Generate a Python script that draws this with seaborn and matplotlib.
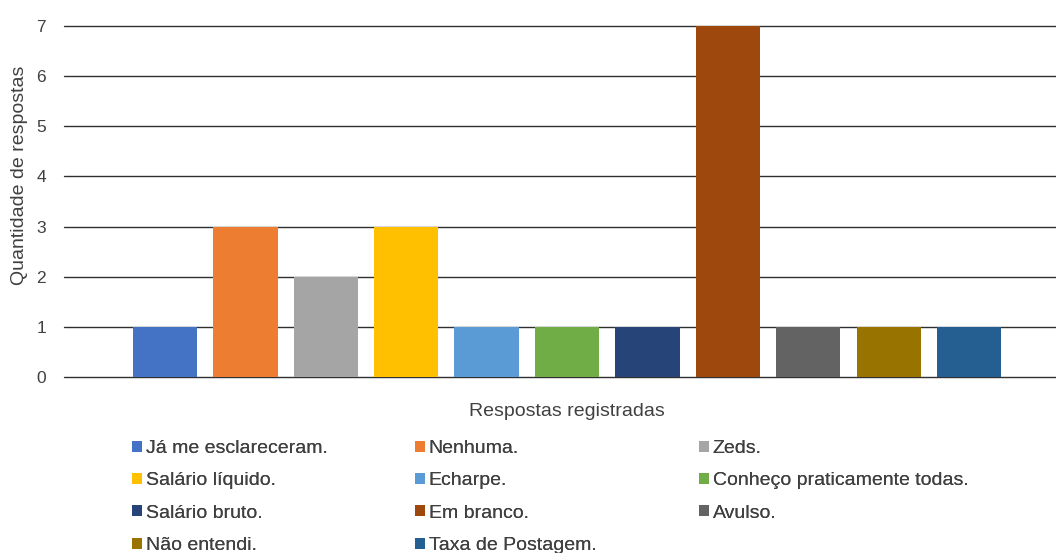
import matplotlib
matplotlib.use("Agg")
import matplotlib.pyplot as plt
from matplotlib.patches import Patch
import seaborn as sns
import pandas as pd

categories = ["Já me esclareceram.", "Nenhuma.", "Zeds.", "Salário líquido.", "Echarpe.",
              "Conheço praticamente todas.", "Salário bruto.", "Em branco.", "Avulso.",
              "Não entendi.", "Taxa de Postagem."]
counts = [1, 3, 2, 3, 1, 1, 1, 7, 1, 1, 1]
colors = ["#4472C4", "#ED7D31", "#A5A5A5", "#FFC000", "#5B9BD5", "#70AD47",
          "#264478", "#9E480E", "#636363", "#997300", "#255E91"]
y_ticks = list(range(0, 8))

sns.set_theme(style="white")
plt.rcParams["font.family"] = ["Liberation Sans", "DejaVu Sans"]

df = pd.DataFrame({"resposta": categories, "qtd": counts})

W, H = 1056, 553
fig = plt.figure(figsize=(W / 100, H / 100), dpi=100)
ax = fig.add_axes([64 / W, 1 - 377 / H, 1 - 64 / W, (377 - 26) / H])

sns.barplot(data=df, x="resposta", y="qtd", hue="resposta", palette=colors,
            saturation=1, width=0.8, linewidth=0, legend=False, ax=ax, zorder=3)

ax.set_ylim(0, 7)
ax.set_xlim(-1.256, 11.08)
ax.set_yticks(y_ticks)
ax.tick_params(axis="y", labelsize=12.5, colors="#404040", length=0, pad=13)
ax.set_xticks([])
ax.yaxis.grid(True, color="#303030", linewidth=1.0, zorder=0)
for gl in ax.get_ygridlines():
    gl.set_clip_on(False)
ax.set_axisbelow(True)
for s in ax.spines.values():
    s.set_visible(False)

ax.set_ylabel("Quantidade de respostas", fontsize=14, color="#404040")
ax.yaxis.set_label_coords(-36 / (W - 64), (377 - 175) / (377 - 26))
ax.set_xlabel("Respostas registradas", fontsize=14, color="#404040")
ax.xaxis.set_label_coords((567 - 64) / (W - 64), -(411 - 377) / (377 - 26))
ax.xaxis.label.set_va("center")

handles = [Patch(facecolor=c, edgecolor="none") for c in colors]
# legend laid out row-wise in 3 columns, like the original
col_x = [132, 415, 699]
for j in range(3):
    idx = list(range(j, len(categories), 3))
    leg = fig.legend([handles[i] for i in idx], [categories[i] for i in idx],
                     loc="upper left", bbox_transform=fig.transFigure,
                     bbox_to_anchor=(col_x[j] / W, 1 - 440 / H),
                     frameon=False, fontsize=14, borderpad=0, borderaxespad=0,
                     handlelength=0.5, handleheight=0.5, handletextpad=0.2,
                     labelspacing=0.79, labelcolor="#404040")
    fig.add_artist(leg)

fig.savefig("out.png", dpi=100)
